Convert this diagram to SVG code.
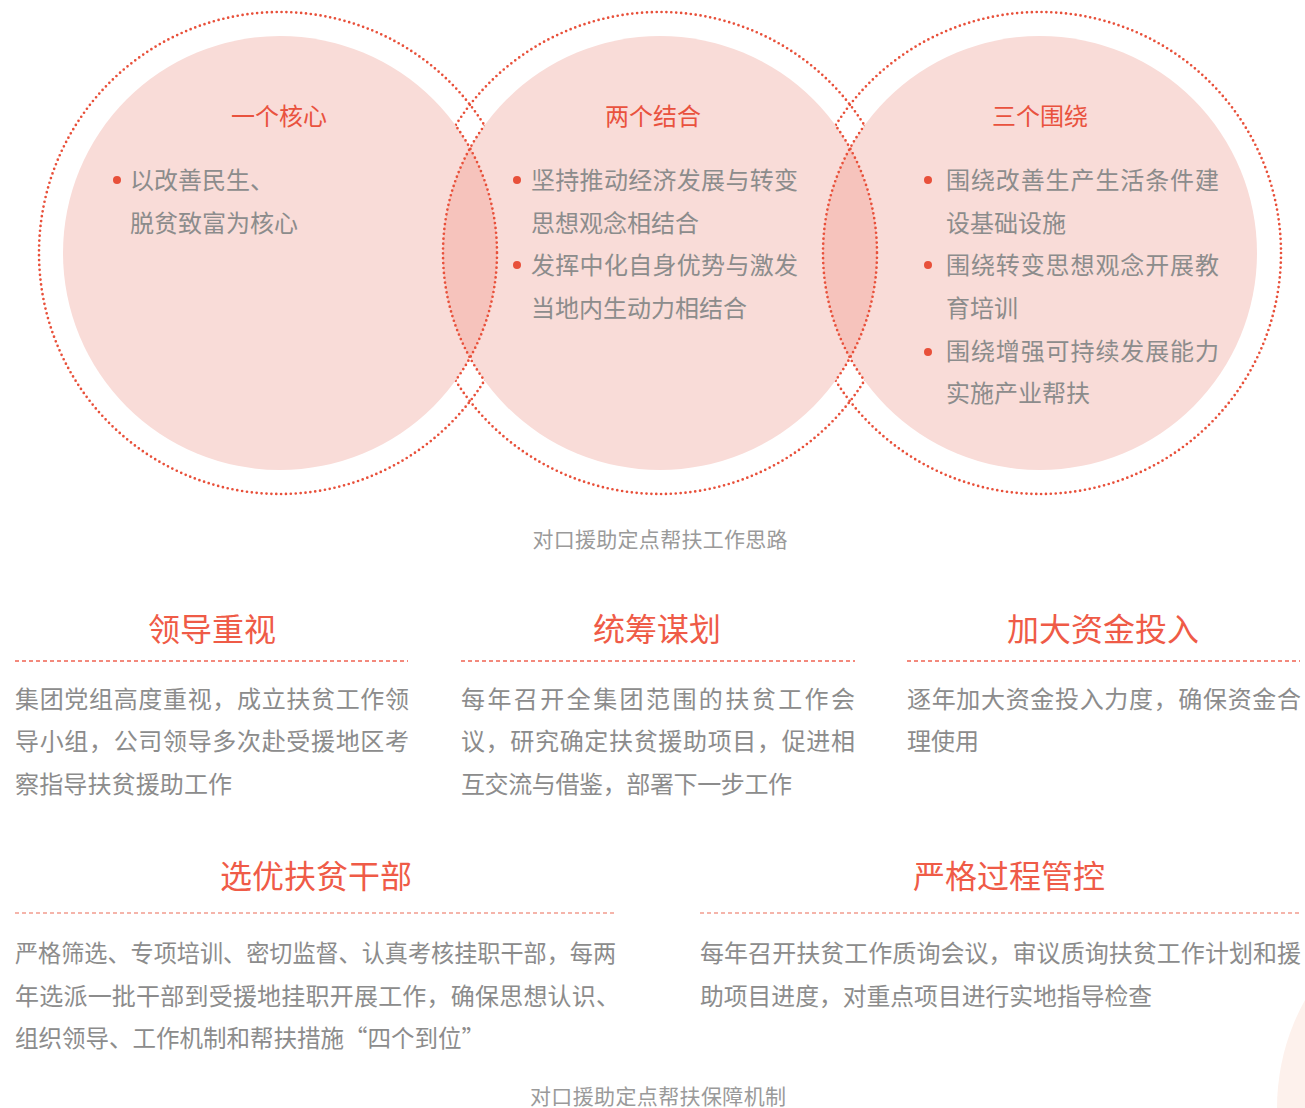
<svg xmlns="http://www.w3.org/2000/svg" width="1305" height="1108" viewBox="0 0 1305 1108">
<style>
text{font-family:"Noto Sans CJK SC","Noto Sans",sans-serif;}
.ring{fill:none;stroke:#e8503a;stroke-width:2.7;stroke-dasharray:0 4.9;stroke-linecap:round;}
.disk{fill:#f9dcd8;}
.lens{fill:#f6c3bc;}
.edge{fill:none;stroke:#e8503a;stroke-width:2.7;stroke-dasharray:0 4.9;stroke-linecap:round;}
.ctitle{font-size:24px;fill:#e9523e;text-anchor:middle;}
.ctext{font-size:24px;fill:#8c8c8c;}
.dot{fill:#e8503a;}
.head{font-size:32px;fill:#ef5b47;text-anchor:middle;}
.body{font-size:24px;fill:#8c8c8c;}
.cap{font-size:21px;fill:#9a9a9a;text-anchor:middle;}
.dash1{stroke:#ef6351;stroke-width:1.3;stroke-dasharray:4 3;fill:none;}
.dash2{stroke:#f29c8f;stroke-width:1.3;stroke-dasharray:4 3;fill:none;}
</style>
<defs>
<clipPath id="cpDisk1"><circle cx="280" cy="253" r="217"/></clipPath>
<clipPath id="cpDisk3"><circle cx="1040" cy="253" r="217"/></clipPath>
<clipPath id="cpRing2"><circle cx="660" cy="253" r="241"/></clipPath>
<clipPath id="cpRing13"><circle cx="280" cy="253" r="241"/><circle cx="1040" cy="253" r="241"/></clipPath>
</defs>
<rect width="1305" height="1108" fill="#ffffff"/>
<circle cx="1499" cy="1108" r="222" fill="#fdf1ec"/>

<g id="venn">
<circle class="ring" cx="280" cy="253" r="241"/>
<circle class="ring" cx="660" cy="253" r="241"/>
<circle class="ring" cx="1040" cy="253" r="241"/>
<circle class="disk" cx="280" cy="253" r="217"/>
<circle class="disk" cx="660" cy="253" r="217"/>
<circle class="disk" cx="1040" cy="253" r="217"/>
<circle class="lens" cx="660" cy="253" r="217" clip-path="url(#cpDisk1)"/>
<circle class="lens" cx="660" cy="253" r="217" clip-path="url(#cpDisk3)"/>
<circle class="edge" cx="280" cy="253" r="217" clip-path="url(#cpRing2)"/>
<circle class="edge" cx="1040" cy="253" r="217" clip-path="url(#cpRing2)"/>
<circle class="edge" cx="660" cy="253" r="217" clip-path="url(#cpRing13)"/>
</g>

<g id="node-core">
<text class="ctitle" x="279" y="124.5">一个核心</text>
<circle class="dot" cx="117" cy="180" r="4"/>
<text class="ctext" x="130" y="188.5">以改善民生、</text>
<text class="ctext" x="130" y="231.5">脱贫致富为核心</text>
</g>

<g id="node-combine">
<text class="ctitle" x="653" y="124.5">两个结合</text>
<circle class="dot" cx="517" cy="180" r="4"/>
<text class="ctext" x="531" y="188.5" textLength="267" lengthAdjust="spacing">坚持推动经济发展与转变</text>
<text class="ctext" x="531" y="231.5">思想观念相结合</text>
<circle class="dot" cx="517" cy="265" r="4"/>
<text class="ctext" x="531" y="273.5" textLength="267" lengthAdjust="spacing">发挥中化自身优势与激发</text>
<text class="ctext" x="531" y="316.5">当地内生动力相结合</text>
</g>

<g id="node-around">
<text class="ctitle" x="1040" y="124.5">三个围绕</text>
<circle class="dot" cx="928" cy="180" r="4"/>
<text class="ctext" x="946" y="188.5" textLength="273" lengthAdjust="spacing">围绕改善生产生活条件建</text>
<text class="ctext" x="946" y="231.5">设基础设施</text>
<circle class="dot" cx="928" cy="265" r="4"/>
<text class="ctext" x="946" y="273.5" textLength="273" lengthAdjust="spacing">围绕转变思想观念开展教</text>
<text class="ctext" x="946" y="316.5">育培训</text>
<circle class="dot" cx="928" cy="352" r="4"/>
<text class="ctext" x="946" y="360" textLength="273" lengthAdjust="spacing">围绕增强可持续发展能力</text>
<text class="ctext" x="946" y="402">实施产业帮扶</text>
</g>

<g id="caption-1">
<text class="cap" x="660" y="547" textLength="255" lengthAdjust="spacing" text-anchor="middle">对口援助定点帮扶工作思路</text>
</g>

<g id="node-leadership">
<text class="head" x="212" y="641">领导重视</text>
<line class="dash1" x1="15" y1="661" x2="408" y2="661"/>
<text class="body" x="15" y="707.5" textLength="394" lengthAdjust="spacing">集团党组高度重视，成立扶贫工作领</text>
<text class="body" x="15" y="750" textLength="394" lengthAdjust="spacing">导小组，公司领导多次赴受援地区考</text>
<text class="body" x="15" y="792.5" textLength="217" lengthAdjust="spacing">察指导扶贫援助工作</text>
</g>

<g id="node-planning">
<text class="head" x="657" y="641">统筹谋划</text>
<line class="dash1" x1="461" y1="661" x2="855" y2="661"/>
<text class="body" x="461" y="707.5" textLength="394" lengthAdjust="spacing">每年召开全集团范围的扶贫工作会</text>
<text class="body" x="461" y="750" textLength="394" lengthAdjust="spacing">议，研究确定扶贫援助项目，促进相</text>
<text class="body" x="461" y="792.5" textLength="331" lengthAdjust="spacing">互交流与借鉴，部署下一步工作</text>
</g>

<g id="node-funding">
<text class="head" x="1103" y="641">加大资金投入</text>
<line class="dash1" x1="907" y1="661" x2="1300" y2="661"/>
<text class="body" x="907" y="707.5" textLength="394" lengthAdjust="spacing">逐年加大资金投入力度，确保资金合</text>
<text class="body" x="907" y="750">理使用</text>
</g>

<g id="node-cadres">
<text class="head" x="316" y="888">选优扶贫干部</text>
<line class="dash2" x1="15" y1="913" x2="615" y2="913"/>
<text class="body" x="15" y="961.5" textLength="601" lengthAdjust="spacingAndGlyphs">严格筛选、专项培训、密切监督、认真考核挂职干部，每两</text>
<text class="body" x="15" y="1004.5" textLength="605" lengthAdjust="spacing">年选派一批干部到受援地挂职开展工作，确保思想认识、</text>
<text class="body" x="15" y="1047" textLength="470" lengthAdjust="spacingAndGlyphs">组织领导、工作机制和帮扶措施“四个到位”</text>
</g>

<g id="node-control">
<text class="head" x="1009" y="888">严格过程管控</text>
<line class="dash2" x1="700" y1="913" x2="1300" y2="913"/>
<text class="body" x="700" y="961.5" textLength="601" lengthAdjust="spacing">每年召开扶贫工作质询会议，审议质询扶贫工作计划和援</text>
<text class="body" x="700" y="1004.5" textLength="452" lengthAdjust="spacingAndGlyphs">助项目进度，对重点项目进行实地指导检查</text>
</g>

<g id="caption-2">
<text class="cap" x="658" y="1103.5" textLength="256" lengthAdjust="spacing" text-anchor="middle">对口援助定点帮扶保障机制</text>
</g>

<g id="connectors"></g>
</svg>
